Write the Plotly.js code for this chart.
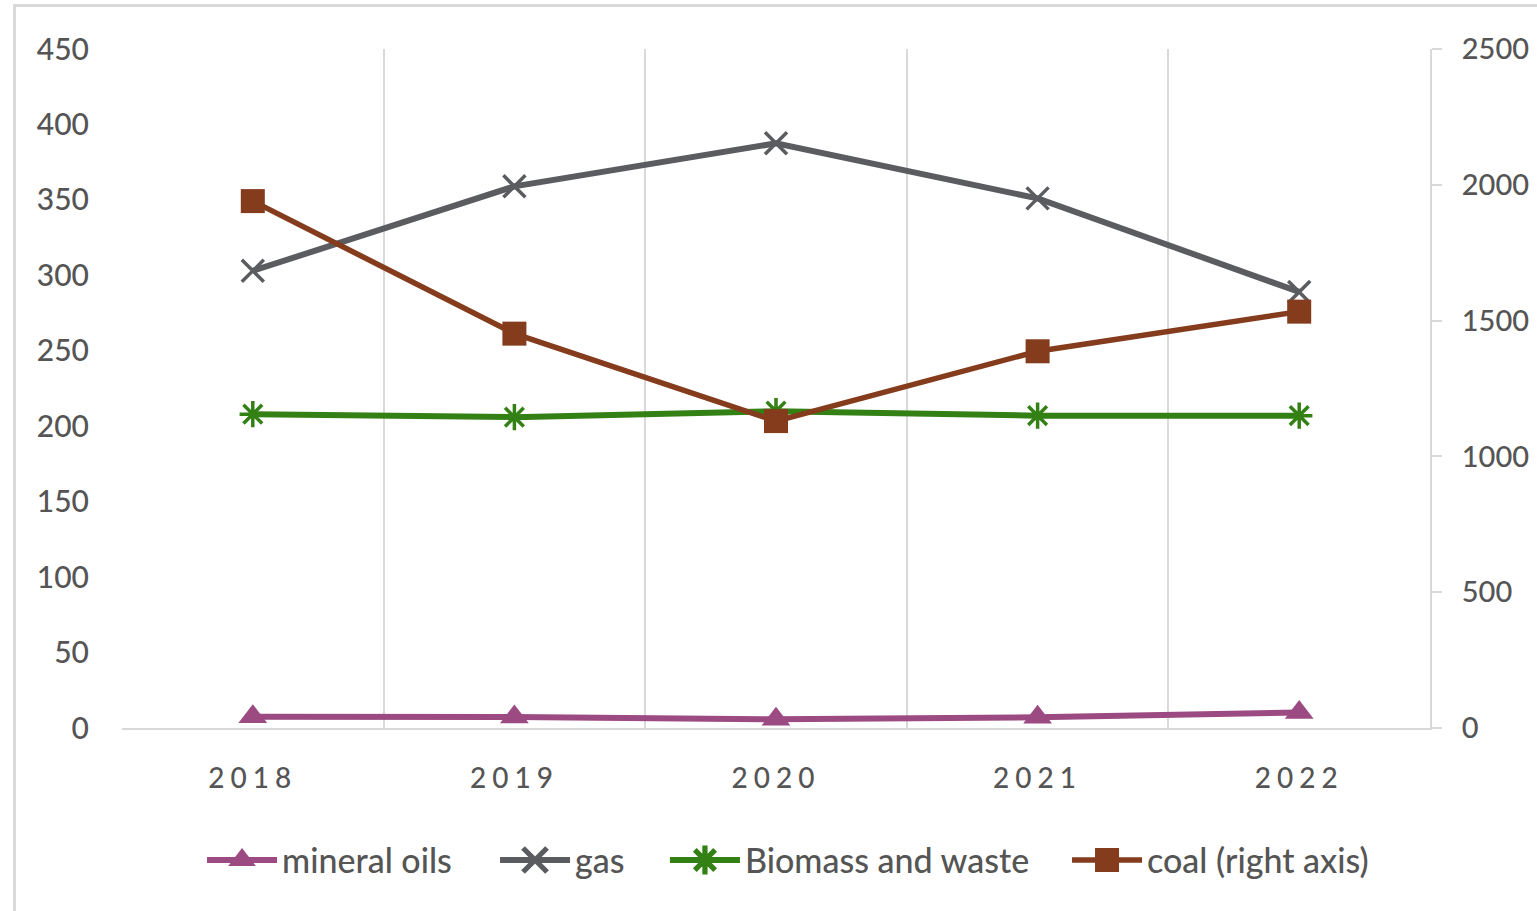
<!DOCTYPE html>
<html>
<head>
<meta charset="utf-8">
<script src="https://cdn.plot.ly/plotly-3.0.1.min.js"></script>
<style>
  html, body { margin: 0; padding: 0; background: #ffffff; overflow: hidden; }
  #frame {
    position: absolute; left: 13px; top: 4px;
    width: 1600px; height: 1000px;
    border: 3px solid #d9d9d9; box-sizing: border-box;
  }
  #chart { position: absolute; left: 0; top: 0; width: 1537px; height: 911px; }
  .xtick text { letter-spacing: 6px; }
</style>
</head>
<body>
<div id="frame"></div>
<div id="chart"></div>
<script>
// Years on the category axis
const years = ['2018', '2019', '2020', '2021', '2022'];

// Left-axis series
const mineralOils = [7.5, 7.3, 5.8, 7.1, 10.3];
const gas = [303, 359, 387.5, 351, 289];
const biomass = [208, 206, 210, 207, 207];

// Right-axis series
const coal = [1940, 1452, 1130, 1387, 1533];

// Axis tick values
const leftTicks = [0, 50, 100, 150, 200, 250, 300, 350, 400, 450];
const rightTicks = [0, 500, 1000, 1500, 2000, 2500];

const textGrey = '#555555';
const gridGrey = '#d9d9d9';
const fontFamily = 'Lato, "Open Sans", sans-serif';

const traces = [
  {
    name: 'mineral oils', x: years, y: mineralOils, type: 'scatter', mode: 'lines+markers',
    legend: 'legend',
    line: { color: '#9c4a82', width: 6 },
    marker: { symbol: 'triangle-up', size: 25, color: '#9c4a82' }
  },
  {
    name: 'gas', x: years, y: gas, type: 'scatter', mode: 'lines+markers',
    legend: 'legend2',
    line: { color: '#5a5c5f', width: 6 },
    marker: { symbol: 'x-thin-open', size: 22, color: '#5a5c5f', line: { width: 3.5, color: '#5a5c5f' } }
  },
  {
    name: 'Biomass and waste', x: years, y: biomass, type: 'scatter', mode: 'lines+markers',
    legend: 'legend3',
    line: { color: '#338015', width: 6 },
    marker: { symbol: 'asterisk-open', size: 22, color: '#338015', line: { width: 3.5, color: '#338015' } }
  },
  {
    name: 'coal (right axis)', x: years, y: coal, type: 'scatter', mode: 'lines+markers', yaxis: 'y2',
    legend: 'legend4',
    line: { color: '#843c1c', width: 5.5 },
    marker: { symbol: 'square', size: 24, color: '#843c1c' }
  }
];

// One legend per series so each entry can sit at its own place in the row
function legendAt(xPaper) {
  return {
    orientation: 'h', x: xPaper, xanchor: 'left', y: -0.195, yanchor: 'middle',
    font: { family: fontFamily, size: 34, color: textGrey, weight: 500 },
    itemwidth: 70, bgcolor: 'rgba(0,0,0,0)', borderwidth: 0
  };
}

const layout = {
  width: 1537, height: 911, autosize: false,
  margin: { l: 122, r: 107, t: 49, b: 183 },
  paper_bgcolor: 'rgba(0,0,0,0)', plot_bgcolor: 'rgba(0,0,0,0)',
  font: { family: fontFamily, color: textGrey, size: 30 },
  showlegend: true,
  legend: legendAt(0.0612),
  legend2: legendAt(0.2852),
  legend3: legendAt(0.4151),
  legend4: legendAt(0.7225),
  xaxis: {
    type: 'category', range: [-0.5, 4.5], fixedrange: true,
    tickson: 'boundaries', ticks: '', showgrid: true, gridcolor: gridGrey, gridwidth: 2,
    showline: true, linecolor: gridGrey, linewidth: 2, zeroline: false,
    tickfont: { family: fontFamily, size: 28, color: textGrey, weight: 500 },
    ticklabelstandoff: 24
  },
  yaxis: {
    range: [0, 450], tickvals: leftTicks, showgrid: false, zeroline: false, showline: false,
    ticks: '', tickfont: { family: fontFamily, size: 30, color: textGrey, weight: 500 },
    ticklabelstandoff: 32
  },
  yaxis2: {
    overlaying: 'y', side: 'right', range: [0, 2500], tickvals: rightTicks,
    showgrid: false, zeroline: false, showline: true, linecolor: gridGrey, linewidth: 2,
    ticks: 'outside', ticklen: 10, tickwidth: 2, tickcolor: gridGrey,
    tickfont: { family: fontFamily, size: 29, color: textGrey, weight: 500 },
    ticklabelstandoff: 14
  }
};

// Lengthen the legend line samples and enlarge their markers
function styleLegend(gd) {
  gd.querySelectorAll('.legendlines path').forEach(function (p) {
    p.setAttribute('d', 'M5,0h70');
  });
  gd.querySelectorAll('.legendpoints path').forEach(function (p) {
    p.setAttribute('transform', 'translate(40,0) scale(1.5)');
  });
}

const gd = document.getElementById('chart');
Plotly.newPlot(gd, traces, layout, { displayModeBar: false, staticPlot: true }).then(function () {
  styleLegend(gd);
  gd.on('plotly_afterplot', function () { styleLegend(gd); });
});
</script>
</body>
</html>
